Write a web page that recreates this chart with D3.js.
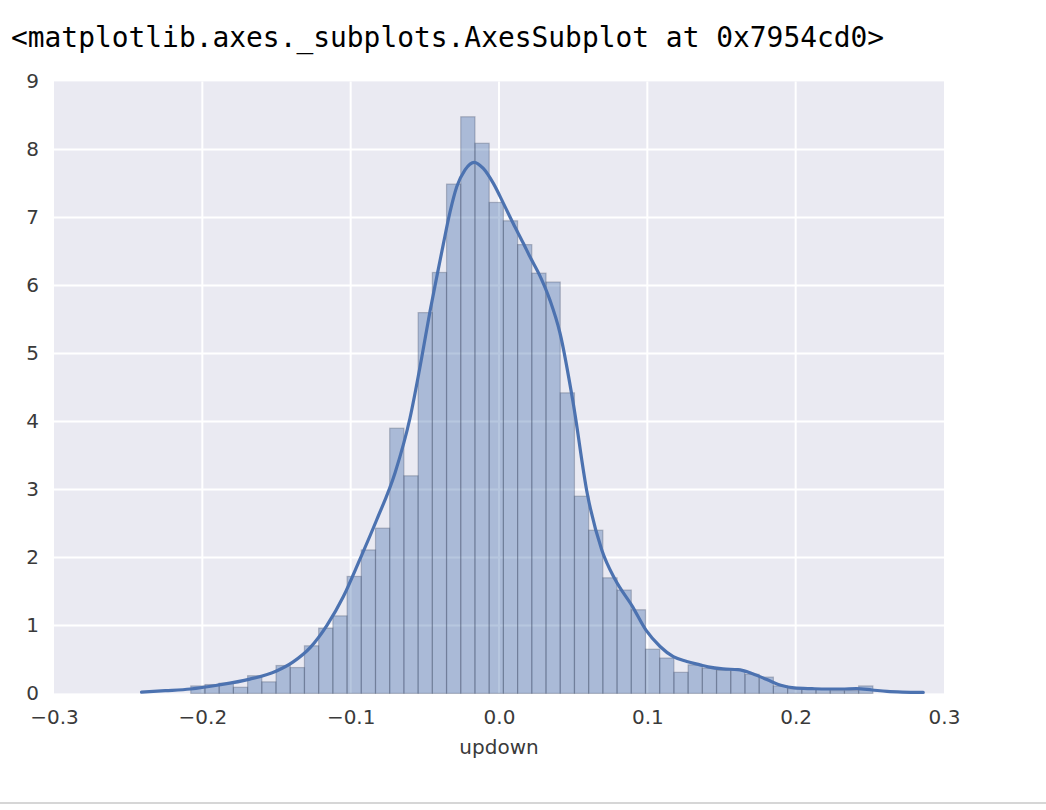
<!DOCTYPE html>
<html>
<head>
<meta charset="utf-8">
<script src="https://cdn.jsdelivr.net/npm/d3@7"></script>
<style>
  body { margin: 0; background: #fff; }
  svg { display: block; }
</style>
</head>
<body>
<div id="d3"><svg id="chart"></svg></div>
<script>
// Histogram: first bin edge, bin width and bar heights (density)
const binStart = -0.2078;
const binWidth = 0.00958;
const barHeights = [
  0.11, 0.13, 0.15, 0.09, 0.26, 0.17, 0.41, 0.38, 0.70, 0.96,
  1.14, 1.72, 2.11, 2.43, 3.90, 3.20, 5.60, 6.19, 7.49, 8.48,
  8.09, 7.22, 6.95, 6.60, 6.18, 6.05, 4.42, 2.90, 2.40, 1.70,
  1.52, 1.23, 0.65, 0.52, 0.31, 0.42, 0.37, 0.34, 0.34, 0.28,
  0.24, 0.11, 0.07, 0.07, 0.07, 0.04, 0.04, 0.11
];

// KDE curve
const kdeX = [
  -0.241, -0.225, -0.208, -0.190, -0.168, -0.150, -0.139, -0.127, -0.116, -0.105,
  -0.094, -0.0825, -0.070, -0.060, -0.052, -0.0465, -0.042, -0.0376, -0.033, -0.0285,
  -0.0229, -0.0167, -0.0106, -0.0038, 0.0029, 0.0096, 0.0164, 0.0209, 0.0276, 0.0344,
  0.0411, 0.0501, 0.0595, 0.0693, 0.0784, 0.0899, 0.0991, 0.1086, 0.1175, 0.1266,
  0.1355, 0.141, 0.151, 0.161, 0.171, 0.181, 0.190, 0.199, 0.211, 0.221,
  0.231, 0.241, 0.2515, 0.2616, 0.2717, 0.286
];
const kdeY = [
  0.02, 0.04, 0.065, 0.12, 0.21, 0.33, 0.46, 0.68, 1.00, 1.42,
  1.96, 2.55, 3.25, 4.05, 4.95, 5.62, 6.12, 6.60, 7.08, 7.45,
  7.70, 7.81, 7.72, 7.50, 7.21, 6.91, 6.62, 6.42, 6.14, 5.78,
  5.30, 4.26, 2.94, 2.11, 1.67, 1.28, 0.93, 0.69, 0.54, 0.47,
  0.42, 0.39, 0.36, 0.35, 0.29, 0.20, 0.12, 0.08, 0.07, 0.065,
  0.065, 0.07, 0.05, 0.03, 0.02, 0.015
];

const xTicks = [-0.3, -0.2, -0.1, 0.0, 0.1, 0.2, 0.3];
const yTicks = [0, 1, 2, 3, 4, 5, 6, 7, 8, 9];
const titleText = "<matplotlib.axes._subplots.AxesSubplot at 0x7954cd0>";
const xLabel = "updown";

const width = 1046;
const height = 810;
const margin = { top: 81.4, right: 102, bottom: 116.6, left: 54 };

const svg = d3.select("#chart").attr("width", width).attr("height", height);

// notebook output text
svg
  .append("text")
  .attr("x", 11)
  .attr("y", 47)
  .attr("font-family", "DejaVu Sans Mono, monospace")
  .attr("font-size", 27.9)
  .attr("fill", "#000")
  .text(titleText);

// x scale
const x = d3
  .scaleLinear()
  .domain([-0.3, 0.3])
  .range([margin.left, width - margin.right]);

// y scale
const y = d3
  .scaleLinear()
  .domain([0, 9])
  .range([height - margin.bottom, margin.top]);

// axes background
svg
  .append("rect")
  .attr("x", x(-0.3))
  .attr("y", y(9))
  .attr("width", x(0.3) - x(-0.3))
  .attr("height", y(0) - y(9))
  .attr("fill", "#EAEAF2");

// white grid
const grid = svg.append("g").attr("stroke", "#fff").attr("stroke-width", 2);
grid
  .selectAll("line.v")
  .data(xTicks.slice(1, -1))
  .join("line")
  .attr("x1", (d) => x(d))
  .attr("x2", (d) => x(d))
  .attr("y1", y(0))
  .attr("y2", y(9));
grid
  .selectAll("line.h")
  .data(yTicks.slice(1, -1))
  .join("line")
  .attr("x1", x(-0.3))
  .attr("x2", x(0.3))
  .attr("y1", (d) => y(d))
  .attr("y2", (d) => y(d));

// Draw bars
svg
  .append("g")
  .selectAll("rect")
  .data(barHeights)
  .join("rect")
  .attr("x", (d, i) => x(binStart + i * binWidth))
  .attr("y", (d) => y(d))
  .attr("width", (d, i) => x(binStart + (i + 1) * binWidth) - x(binStart + i * binWidth))
  .attr("height", (d) => y(0) - y(d))
  .attr("fill", "#4C72B0")
  .attr("fill-opacity", 0.4)
  .attr("stroke", "#2a3550")
  .attr("stroke-opacity", 0.28)
  .attr("stroke-width", 1.2);

// KDE line
const kde = kdeX.map((d, i) => [d, kdeY[i]]);
svg
  .append("path")
  .datum(kde)
  .attr("fill", "none")
  .attr("stroke", "#4C72B0")
  .attr("stroke-width", 3.2)
  .attr("stroke-linejoin", "round")
  .attr("stroke-linecap", "round")
  .attr(
    "d",
    d3
      .line()
      .x((d) => x(d[0]))
      .y((d) => y(d[1]))
      .curve(d3.curveMonotoneX)
  );

// x axis (labels only, seaborn darkgrid style)
const xAxis = svg
  .append("g")
  .attr("transform", "translate(0," + y(0) + ")")
  .call(
    d3
      .axisBottom(x)
      .tickValues(xTicks)
      .tickFormat((d) => d3.format(".1f")(d).replace("-", "\u2212"))
      .tickSize(0)
      .tickPadding(16)
  );
xAxis.select(".domain").remove();
xAxis
  .selectAll("text")
  .attr("font-family", "DejaVu Sans, sans-serif")
  .attr("font-size", 20)
  .attr("fill", "#3a3a3a");

// y axis
const yAxis = svg
  .append("g")
  .attr("transform", "translate(" + margin.left + ",0)")
  .call(d3.axisLeft(y).tickValues(yTicks).tickFormat(d3.format("d")).tickSize(0).tickPadding(15));
yAxis.select(".domain").remove();
yAxis
  .selectAll("text")
  .attr("font-family", "DejaVu Sans, sans-serif")
  .attr("font-size", 20)
  .attr("fill", "#3a3a3a");

// x axis label
svg
  .append("text")
  .attr("x", x(0))
  .attr("y", 754)
  .attr("text-anchor", "middle")
  .attr("font-family", "DejaVu Sans, sans-serif")
  .attr("font-size", 20)
  .attr("fill", "#3a3a3a")
  .text(xLabel);

// cell separator at the bottom
svg
  .append("rect")
  .attr("x", 0)
  .attr("y", 802)
  .attr("width", width)
  .attr("height", 2)
  .attr("fill", "#d6d6d6");
</script>
</body>
</html>
